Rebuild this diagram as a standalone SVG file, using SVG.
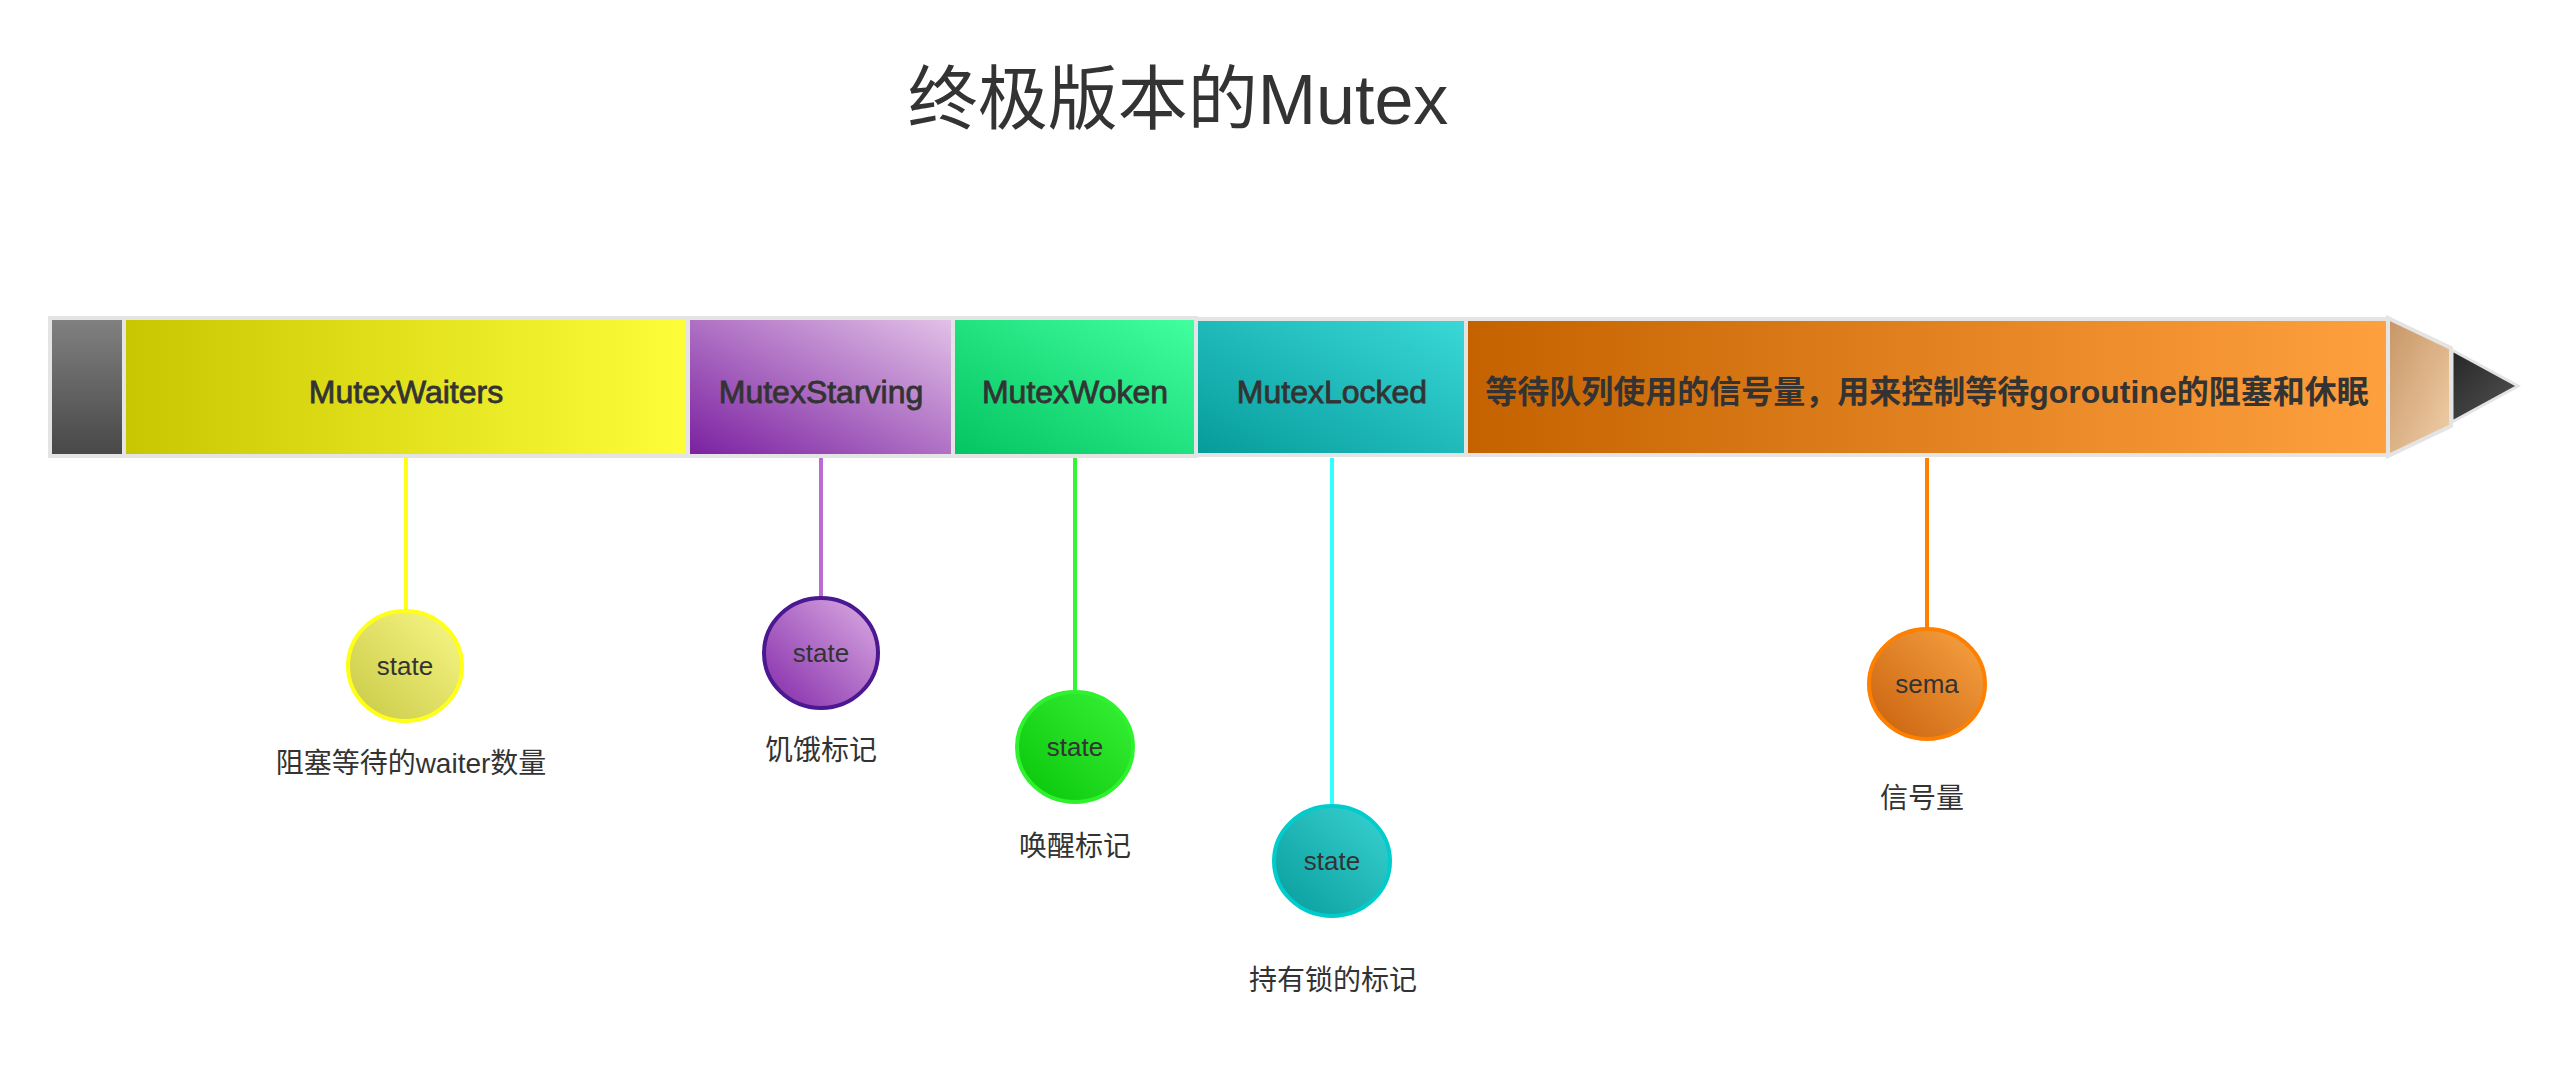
<svg xmlns="http://www.w3.org/2000/svg" width="2569" height="1067" viewBox="0 0 2569 1067">
<defs>
<linearGradient id="gGray" x1="0" y1="0" x2="0" y2="1"><stop offset="0" stop-color="#818181"/><stop offset="1" stop-color="#474747"/></linearGradient>
<linearGradient id="gYellow" x1="0" y1="0" x2="1" y2="0"><stop offset="0" stop-color="#c8c600"/><stop offset="1" stop-color="#fdfd3a"/></linearGradient>
<linearGradient id="gPurple" x1="0" y1="1" x2="1" y2="0"><stop offset="0" stop-color="#7a1fa0"/><stop offset="1" stop-color="#e3c2e8"/></linearGradient>
<linearGradient id="gGreen" x1="0" y1="1" x2="1" y2="0"><stop offset="0" stop-color="#02c460"/><stop offset="1" stop-color="#42ffa0"/></linearGradient>
<linearGradient id="gTeal" x1="0" y1="1" x2="1" y2="0"><stop offset="0" stop-color="#069b9b"/><stop offset="1" stop-color="#3ad8d8"/></linearGradient>
<linearGradient id="gOrange" x1="0" y1="0" x2="1" y2="0"><stop offset="0" stop-color="#c46200"/><stop offset="1" stop-color="#ffa03e"/></linearGradient>
<linearGradient id="gTan" x1="0" y1="0" x2="1" y2="1"><stop offset="0" stop-color="#c69565"/><stop offset="1" stop-color="#f2d0aa"/></linearGradient>
<linearGradient id="gDark" x1="0" y1="0" x2="1" y2="1"><stop offset="0" stop-color="#262626"/><stop offset="1" stop-color="#555555"/></linearGradient>
<linearGradient id="cYellow" x1="0" y1="1" x2="1" y2="0"><stop offset="0" stop-color="#c8c845"/><stop offset="1" stop-color="#f8f888"/></linearGradient>
<linearGradient id="cPurple" x1="0" y1="1" x2="1" y2="0"><stop offset="0" stop-color="#8228a8"/><stop offset="1" stop-color="#dcaee4"/></linearGradient>
<linearGradient id="cGreen" x1="0" y1="1" x2="1" y2="0"><stop offset="0" stop-color="#08c408"/><stop offset="1" stop-color="#38f238"/></linearGradient>
<linearGradient id="cTeal" x1="0" y1="1" x2="1" y2="0"><stop offset="0" stop-color="#089c9c"/><stop offset="1" stop-color="#3ad2d2"/></linearGradient>
<linearGradient id="cOrange" x1="0" y1="1" x2="1" y2="0"><stop offset="0" stop-color="#c8600c"/><stop offset="1" stop-color="#f8a444"/></linearGradient>
</defs>
<style>
text{font-family:"Liberation Sans","Noto Sans CJK SC",sans-serif;fill:#333333;text-anchor:middle}
.blk{stroke:#e4e4e4;stroke-width:4}
.bl{font-size:32px;stroke:#333333;stroke-width:0.8}
.cl{font-size:26px}
.lb{font-size:28px}
.conn{stroke-width:4;fill:none}
.node{stroke-width:4}
</style>
<rect width="2569" height="1067" fill="#ffffff"/>
<text id="title" x="1178" y="124" style="font-size:70px">终极版本的Mutex</text>

<g id="connectors">
<line class="conn" x1="406" y1="458" x2="406" y2="610" stroke="#ffff1a"/>
<line class="conn" x1="821" y1="458" x2="821" y2="598" stroke="#bd6ad6"/>
<line class="conn" x1="1075" y1="458" x2="1075" y2="691" stroke="#33f533"/>
<line class="conn" x1="1332" y1="458" x2="1332" y2="806" stroke="#33ffff"/>
<line class="conn" x1="1927" y1="458" x2="1927" y2="629" stroke="#ff8000"/>
</g>

<g id="block-unused"><rect class="blk" x="50" y="318" width="74" height="138" fill="url(#gGray)"/></g>
<g id="block-waiters"><rect class="blk" x="124" y="318" width="564" height="138" fill="url(#gYellow)"/><text class="bl" x="406" y="403">MutexWaiters</text></g>
<g id="block-starving"><rect class="blk" x="688" y="318" width="265" height="138" fill="url(#gPurple)"/><text class="bl" x="821" y="403">MutexStarving</text></g>
<g id="block-woken"><rect class="blk" x="953" y="318" width="243" height="138" fill="url(#gGreen)"/><text class="bl" x="1075" y="403">MutexWoken</text></g>
<g id="block-locked"><rect class="blk" x="1196" y="319" width="270" height="136" fill="url(#gTeal)"/><text class="bl" x="1332" y="403">MutexLocked</text></g>
<g id="block-sema"><rect class="blk" x="1466" y="319" width="922" height="136" fill="url(#gOrange)"/><text x="1927" y="403" style="font-size:32px;font-weight:bold">等待队列使用的信号量，用来控制等待goroutine的阻塞和休眠</text></g>
<g id="tip"><polygon class="blk" points="2388,318 2451,348 2451,426 2388,456" fill="url(#gTan)"/><polygon class="blk" style="stroke-width:3" points="2452,350 2518,386 2452,422" fill="url(#gDark)"/></g>

<g id="node-waiters"><ellipse class="node" cx="405" cy="666" rx="57" ry="55" fill="url(#cYellow)" stroke="#ffff1a"/><text class="cl" x="405" y="675">state</text><text class="lb" x="411" y="773">阻塞等待的waiter数量</text></g>
<g id="node-starving"><ellipse class="node" cx="821" cy="653" rx="57" ry="55" fill="url(#cPurple)" stroke="#4a1890"/><text class="cl" x="821" y="662">state</text><text class="lb" x="821" y="760">饥饿标记</text></g>
<g id="node-woken"><ellipse class="node" cx="1075" cy="747" rx="58" ry="55" fill="url(#cGreen)" stroke="#2ef22e"/><text class="cl" x="1075" y="756">state</text><text class="lb" x="1075" y="856">唤醒标记</text></g>
<g id="node-locked"><ellipse class="node" cx="1332" cy="861" rx="58" ry="55" fill="url(#cTeal)" stroke="#00cccc"/><text class="cl" x="1332" y="870">state</text><text class="lb" x="1333" y="990">持有锁的标记</text></g>
<g id="node-sema"><ellipse class="node" cx="1927" cy="684" rx="58" ry="55" fill="url(#cOrange)" stroke="#ff8000"/><text class="cl" x="1927" y="693">sema</text><text class="lb" x="1922" y="808">信号量</text></g>
</svg>
